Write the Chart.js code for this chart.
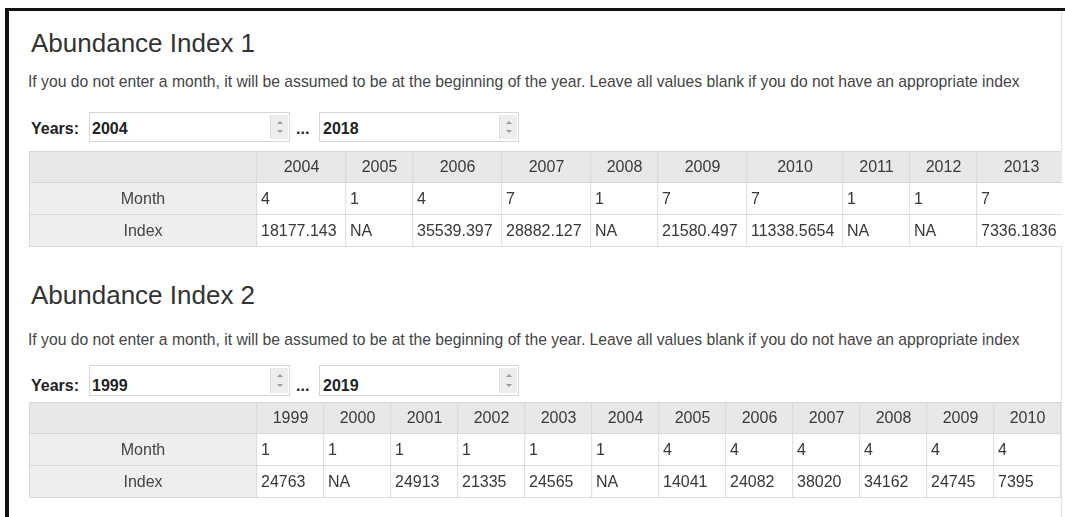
<!DOCTYPE html>
<html>
<head>
<meta charset="utf-8">
<script src="https://cdn.jsdelivr.net/npm/chart.js@4/dist/chart.umd.min.js"></script>
<style>
  body { margin: 0; width: 1065px; height: 517px; overflow: hidden; background: #fff;
         font-family: "Liberation Sans", Arial, sans-serif; position: relative; }
  .abs { position: absolute; white-space: nowrap; }
  .frame { left: 5px; top: 8px; width: 1080px; height: 540px;
           border-top: 3px solid #111; border-left: 4px solid #111; }
  .rline { left: 1061px; top: 11px; width: 1px; height: 506px; background: #e4e4e4; }
  .title { left: 31px; font-size: 26px; line-height: 26px; color: #333; }
  .desc { left: 28px; font-size: 15.7px; line-height: 16px; color: #444; }
  .lbl { font-size: 16px; line-height: 28px; font-weight: bold; color: #222; }
  .box { border: 1px solid #d6d6d6; box-sizing: border-box; background: #fff; }
  .spin { width: 17px; background: #ededed; border-left: 1px solid #ddd; }
  .spin:before, .spin:after { content: ""; position: absolute; left: 6px;
           border-left: 3px solid transparent; border-right: 3px solid transparent; }
  .spin:before { top: 6px; border-bottom: 3px solid #999; }
  .spin:after { bottom: 6px; border-top: 3px solid #999; }
  canvas { position: absolute; left: 29px; }
</style>
</head>
<body>
<div class="abs frame"></div>
<div class="abs rline"></div>

<div class="abs title" style="top:30px">Abundance Index 1</div>
<div class="abs desc" style="top:74px">If you do not enter a month, it will be assumed to be at the beginning of the year. Leave all values blank if you do not have an appropriate index</div>
<div class="abs box" style="left:89px;top:112px;width:201px;height:30px"></div>
<div class="abs spin" style="left:270px;top:115px;height:24px"></div>
<div class="abs box" style="left:319px;top:112px;width:200px;height:30px"></div>
<div class="abs spin" style="left:499px;top:115px;height:24px"></div>
<div class="abs lbl" style="left:31px;top:115px">Years:</div>
<div class="abs lbl" style="left:92px;top:115px" id="from1"></div>
<div class="abs lbl" style="left:296px;top:115px">...</div>
<div class="abs lbl" style="left:323px;top:115px" id="to1"></div>
<canvas id="table1" width="1033" height="96" style="top:151px"></canvas>

<div class="abs title" style="top:282px">Abundance Index 2</div>
<div class="abs desc" style="top:332px">If you do not enter a month, it will be assumed to be at the beginning of the year. Leave all values blank if you do not have an appropriate index</div>
<div class="abs box" style="left:89px;top:365px;width:201px;height:31px"></div>
<div class="abs spin" style="left:270px;top:368px;height:25px"></div>
<div class="abs box" style="left:319px;top:365px;width:200px;height:31px"></div>
<div class="abs spin" style="left:499px;top:368px;height:25px"></div>
<div class="abs lbl" style="left:31px;top:372px">Years:</div>
<div class="abs lbl" style="left:92px;top:372px" id="from2"></div>
<div class="abs lbl" style="left:296px;top:372px">...</div>
<div class="abs lbl" style="left:323px;top:372px" id="to2"></div>
<canvas id="table2" width="1033" height="96" style="top:402px"></canvas>

<script>
// row labels of both tables
const rows = ['', 'Month', 'Index'];

// Abundance Index 1 (2004 ... 2018, only the visible columns)
const range1 = [2004, 2018];
const years1 = [2004, 2005, 2006, 2007, 2008, 2009, 2010, 2011, 2012, 2013];
const months1 = [4, 1, 4, 7, 1, 7, 7, 1, 1, 7];
const index1 = [18177.143, null, 35539.397, 28882.127, null, 21580.497, 11338.5654, null, null, 7336.1836];

// Abundance Index 2 (1999 ... 2019, only the visible columns)
const range2 = [1999, 2019];
const years2 = [1999, 2000, 2001, 2002, 2003, 2004, 2005, 2006, 2007, 2008, 2009, 2010];
const months2 = [1, 1, 1, 1, 1, 1, 4, 4, 4, 4, 4, 4];
const index2 = [24763, null, 24913, 21335, 24565, null, 14041, 24082, 38020, 34162, 24745, 7395];

const FONT = '16px "Liberation Sans", Arial, sans-serif';
const fmt = v => (v === null ? 'NA' : String(v));

document.getElementById('from1').textContent = range1[0];
document.getElementById('to1').textContent = range1[1];
document.getElementById('from2').textContent = range2[0];
document.getElementById('to2').textContent = range2[1];

// puts the texts into the cells, using the chart scales
const cellText = {
  id: 'cellText',
  afterDatasetsDraw(chart) {
    const { ctx, chartArea: a, scales: { x, y } } = chart;
    const cols = chart.$cols;
    ctx.save();
    ctx.beginPath();
    ctx.rect(a.left, a.top, a.right - a.left, a.bottom - a.top);
    ctx.clip();
    ctx.font = FONT;
    ctx.textBaseline = 'middle';
    rows.forEach((r, ri) => {
      const py = y.getPixelForValue(ri) + 1;
      // row header column
      ctx.fillStyle = '#444';
      ctx.textAlign = 'center';
      ctx.fillText(r, (x.getPixelForValue(cols[0][0]) + x.getPixelForValue(cols[0][1])) / 2, py);
      cols.slice(1).forEach((c, ci) => {
        const x0 = x.getPixelForValue(c[0]);
        const x1 = x.getPixelForValue(c[1]);
        if (ri === 0) {
          ctx.fillStyle = '#3a3a3a';
          ctx.textAlign = 'center';
          ctx.fillText(String(chart.$years[ci]), (x0 + x1) / 2, py);
        } else {
          ctx.fillStyle = '#383838';
          ctx.textAlign = 'left';
          const v = ri === 1 ? chart.$months[ci] : fmt(chart.$values[ci]);
          ctx.fillText(String(v), x0 + 4, py);
        }
      });
    });
    ctx.restore();
  }
};

function buildTable(id, years, months, values) {
  const canvas = document.getElementById(id);
  const m = canvas.getContext('2d');
  m.font = FONT;

  // column extents, like an html table: width from its widest text
  const firstW = 228;
  const cols = [[0, firstW]];
  let pos = firstW;
  years.forEach((yr, i) => {
    const tw = Math.max(m.measureText(String(yr)).width,
                        m.measureText(String(months[i])).width,
                        m.measureText(fmt(values[i])).width);
    const w = Math.max(67, Math.round(tw + 13));
    cols.push([pos, pos + w]);
    pos += w;
  });

  const datasets = cols.map((c, ci) => ({
    data: rows.map(() => [c[0], c[1]]),
    backgroundColor: ci === 0 ? ['#e8e8e8', '#eeeeee', '#eeeeee'] : ['#e8e8e8', '#ffffff', '#ffffff'],
    borderColor: '#d2d2d2',
    borderWidth: ctx => ({ top: ctx.dataIndex === 0 ? 1 : 0, right: 1, bottom: 1, left: ctx.datasetIndex === 0 ? 1 : 0 }),
    borderSkipped: false,
    grouped: false,
    barPercentage: 1,
    categoryPercentage: 1
  }));

  const chart = new Chart(canvas, {
    type: 'bar',
    data: { labels: rows, datasets: datasets },
    options: {
      indexAxis: 'y',
      responsive: false,
      animation: false,
      events: [],
      layout: { padding: 0 },
      scales: {
        x: { type: 'linear', min: 0, max: canvas.width, display: false },
        y: { display: false }
      },
      plugins: { legend: { display: false }, tooltip: { enabled: false } }
    },
    plugins: [{
      id: 'tableData',
      beforeInit(c) {
        c.$cols = cols; c.$years = years; c.$months = months; c.$values = values;
      }
    }, cellText]
  });
  return chart;
}

buildTable('table1', years1, months1, index1);
buildTable('table2', years2, months2, index2);
</script>
</body>
</html>
